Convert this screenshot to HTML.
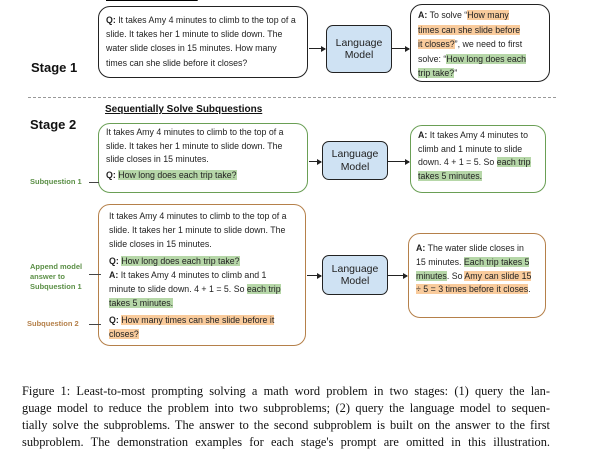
<!DOCTYPE html>
<html><head><style>
body{margin:0;width:605px;height:433px;background:#fff;position:relative;overflow:hidden;font-family:"Liberation Sans",sans-serif;}
.a{position:absolute;}
.box{position:absolute;border:1.3px solid #222;border-radius:12px;box-sizing:border-box;font-size:8.8px;line-height:14.2px;color:#222;}
.lm{position:absolute;background:#cfe2f3;border:1.3px solid #222;border-radius:7px;box-sizing:border-box;font-size:10.5px;line-height:12.5px;text-align:center;display:flex;align-items:center;justify-content:center;color:#222;}
.g{background:#b6d7a8}.o{background:#f9cb9c}
.ar{position:absolute;height:1px;background:#222;}
.ar:after{content:"";position:absolute;right:-1px;top:-2.5px;border-left:5px solid #222;border-top:3px solid transparent;border-bottom:3px solid transparent;}
.st{position:absolute;font-weight:bold;font-size:13px;color:#111;}
.lab{position:absolute;font-size:7.5px;font-weight:bold;line-height:10px;}
.cap div{text-align:justify;text-align-last:justify;height:17px}
</style></head><body>
<div class="a" style="left:106px;top:-9px;font-size:10px;font-weight:bold;text-decoration:underline">Problem Reduction</div>
<div class="box" style="left:98px;top:6px;width:210px;height:72px;padding:6px 7px;">
<b>Q:</b> It takes Amy 4 minutes to climb to the top of a slide. It takes her 1 minute to slide down. The water slide closes in 15 minutes. How many times can she slide before it closes?</div>
<div class="st" style="left:31px;top:60px">Stage 1</div>
<div class="ar" style="left:309px;top:48px;width:16px"></div>
<div class="lm" style="left:326px;top:25px;width:66px;height:48px">Language<br>Model</div>
<div class="ar" style="left:392px;top:48px;width:17px"></div>
<div class="box" style="left:410px;top:4px;width:140px;height:78px;padding:3px 22px 3px 7px;line-height:14.5px">
<b>A:</b> To solve “<span class="o">How many times can she slide before it closes?</span>”, we need to first solve: “<span class="g">How long does each trip take?</span>”</div>
<div class="a" style="left:28px;top:97px;width:528px;border-top:1.3px dashed #999"></div>
<div class="a" style="left:105px;top:104px;font-size:10px;font-weight:bold;text-decoration:underline;color:#111">Sequentially Solve Subquestions</div>
<div class="st" style="left:30px;top:117px">Stage 2</div>
<div class="box" style="left:98px;top:123px;width:210px;height:70px;padding:2px 7px;border-color:#6a9f55;line-height:13.5px">
It takes Amy 4 minutes to climb to the top of a slide. It takes her 1 minute to slide down. The slide closes in 15 minutes.<div style="margin-top:2px"><b>Q:</b> <span class="g">How long does each trip take?</span></div></div>
<div class="lab" style="left:30px;top:177px;color:#5b8f46">Subquestion 1</div>
<div class="a" style="left:89px;top:182px;width:10px;border-top:1px solid #444"></div>
<div class="ar" style="left:309px;top:161px;width:12px"></div>
<div class="lm" style="left:322px;top:141px;width:66px;height:39px">Language<br>Model</div>
<div class="ar" style="left:388px;top:161px;width:21px"></div>
<div class="box" style="left:410px;top:125px;width:136px;height:68px;padding:3px 7px;border-color:#6a9f55;line-height:13.5px">
<b>A:</b> It takes Amy 4 minutes to climb and 1 minute to slide down. 4 + 1 = 5. So <span class="g">each trip takes 5 minutes.</span></div>
<div class="box" style="left:98px;top:204px;width:208px;height:142px;padding:4px 10px;border-color:#b5804a;line-height:14px">
It takes Amy 4 minutes to climb to the top of a slide. It takes her 1 minute to slide down. The slide closes in 15 minutes.<div style="margin-top:3px"><b>Q:</b> <span class="g">How long does each trip take?</span><br><b>A:</b> It takes Amy 4 minutes to climb and 1 minute to slide down. 4 + 1 = 5. So <span class="g">each trip takes 5 minutes.</span></div><div style="margin-top:3px"><b>Q:</b> <span class="o">How many times can she slide before it closes?</span></div></div>
<div class="lab" style="left:30px;top:262px;color:#5b8f46">Append model<br>answer to<br>Subquestion 1</div>
<div class="a" style="left:89px;top:274px;width:12px;border-top:1px solid #444"></div>
<div class="lab" style="left:27px;top:319px;color:#b5804a">Subquestion 2</div>
<div class="a" style="left:89px;top:324px;width:12px;border-top:1px solid #444"></div>
<div class="ar" style="left:307px;top:275px;width:14px"></div>
<div class="lm" style="left:322px;top:255px;width:66px;height:40px">Language<br>Model</div>
<div class="ar" style="left:388px;top:275px;width:19px"></div>
<div class="box" style="left:408px;top:233px;width:138px;height:85px;padding:8px 12px 8px 7px;border-color:#b5804a;line-height:13.8px">
<b>A:</b> The water slide closes in 15 minutes. <span class="g">Each trip takes 5 minutes</span>. So <span class="o">Amy can slide 15 ÷ 5 = 3 times before it closes</span>.</div>
<div class="a cap" style="left:22px;top:383px;width:528px;font-family:'Liberation Serif',serif;font-size:12.4px;line-height:17px;color:#111;white-space:nowrap">
<div>Figure 1: Least-to-most prompting solving a math word problem in two stages: (1) query the lan-</div>
<div>guage model to reduce the problem into two subproblems; (2) query the language model to sequen-</div>
<div>tially solve the subproblems. The answer to the second subproblem is built on the answer to the first</div>
<div>subproblem. The demonstration examples for each stage's prompt are omitted in this illustration.</div>
</div>
</body></html>
